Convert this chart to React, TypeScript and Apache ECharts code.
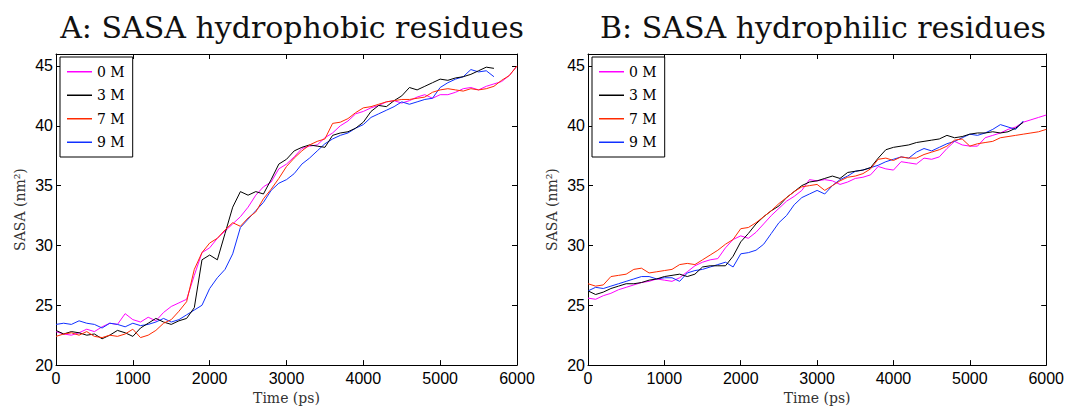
import { useEffect, useRef } from "react";
import * as echarts from "echarts";

const timePs = [
  0, 100, 200, 300, 400, 500, 600, 700, 800, 900,
  1000, 1100, 1200, 1300, 1400, 1500, 1600, 1700, 1800, 1900,
  2000, 2100, 2200, 2300, 2400, 2500, 2600, 2700, 2800, 2900,
  3000, 3100, 3200, 3300, 3400, 3500, 3600, 3700, 3800, 3900,
  4000, 4100, 4200, 4300, 4400, 4500, 4600, 4700, 4800, 4900,
  5000, 5100, 5200, 5300, 5400, 5500, 5600, 5700, 5800, 5900,
  6000,
];

const seriesNames = ["0 M", "3 M", "7 M", "9 M"];
const seriesColors = ["#ff00ff", "#000000", "#ff2a00", "#1030ff"];
const panelTitles = ["A: SASA hydrophobic residues", "B: SASA hydrophilic residues"];
const xTicks = [0, 1000, 2000, 3000, 4000, 5000, 6000];
const yTicks = [20, 25, 30, 35, 40, 45];

// Panel A: hydrophobic
const hydrophobic0M = [
  22.8, 22.6, 22.5, 22.7, 23.0, 22.8, 23.2, 23.5, 23.4, 24.3,
  23.8, 23.6, 24.0, 23.7, 24.4, 24.9, 25.2, 25.5, 27.5, 29.4,
  29.8, 30.6, 31.2, 31.8, 32.4, 33.2, 34.2, 34.9, 35.3, 36.4,
  36.8, 37.4, 38.1, 38.3, 38.4, 39.0, 39.4, 40.0, 40.4, 41.0,
  41.2, 41.5, 41.7, 42.0, 42.1, 41.9, 42.1, 42.4, 42.6, 42.3,
  42.6, 42.6, 42.8, 43.1, 43.2, 43.0, 43.3, 43.5, 43.7, 44.2,
  45.0,
];
const hydrophobic3M = [
  22.9, 22.6, 22.8, 22.7, 22.5, 22.6, 22.2, 22.5, 22.9, 22.7,
  22.4, 23.1, 23.5, 23.9, 23.6, 23.4, 23.7, 23.9, 24.8, 28.8,
  29.2, 28.8, 31.0, 33.2, 34.5, 34.2, 34.5, 34.3, 35.5, 36.8,
  37.2, 37.9, 38.2, 38.4, 38.3, 38.2, 39.2, 39.4, 39.5, 39.8,
  40.3, 41.2, 41.7, 41.6, 42.1, 42.5, 43.2, 43.0, 43.3, 43.6,
  43.9, 43.8, 44.0, 44.1, 44.3, 44.6, 44.9, 44.8,
];
const hydrophobic7M = [
  22.4, 22.6, 22.7, 22.5, 22.8, 22.4, 22.3, 22.5, 22.4, 22.6,
  23.0, 22.3, 22.5, 22.9, 23.5, 23.8, 24.5, 25.3, 28.0, 29.4,
  30.2, 30.6, 31.3, 31.9, 31.6, 32.3, 32.8, 33.9, 34.7, 35.6,
  36.6, 37.3, 37.9, 38.4, 38.7, 38.9, 40.2, 40.3, 40.6, 41.1,
  41.5, 41.6, 41.8, 42.0, 42.1, 42.2, 42.2, 42.3, 42.4, 42.8,
  43.0, 43.1, 43.0, 42.9, 43.1, 43.0, 43.1, 43.3, 43.8, 44.2,
  45.0,
];
const hydrophobic9M = [
  23.4, 23.5, 23.4, 23.7, 23.5, 23.4, 23.1, 23.5, 23.4, 23.2,
  23.5, 23.3, 23.4, 23.6, 23.9, 23.6, 23.8, 24.2, 24.6, 25.0,
  26.4, 27.3, 28.0, 29.3, 31.5, 32.2, 32.9, 33.6, 34.6, 35.2,
  35.5, 36.0, 36.8, 37.3, 37.9, 38.5, 38.9, 39.2, 39.4, 39.8,
  40.1, 40.7, 41.0, 41.3, 41.6, 42.0, 41.8, 42.0, 42.2, 42.3,
  43.2, 43.6, 43.9, 44.1, 44.7, 44.5, 44.6, 44.1,
];

// Panel B: hydrophilic
const hydrophilic0M = [
  25.6, 25.5, 25.8, 26.0, 26.3, 26.5, 26.7, 26.9, 27.0, 27.2,
  27.1, 27.0, 27.3, 27.8, 28.3, 28.6, 28.8, 28.9, 29.8, 30.5,
  30.8, 30.6, 31.1, 31.8, 32.5, 33.1, 33.7, 34.1, 34.6, 35.5,
  35.4, 35.5, 35.4, 35.1, 35.3, 35.6, 35.7, 35.9, 36.6, 36.4,
  36.3, 37.0, 36.9, 36.8, 37.3, 37.2, 37.4, 38.1, 38.7, 38.4,
  38.3, 38.3, 39.0, 39.2, 39.4, 39.7, 39.9, 40.3, 40.5, 40.7,
  40.9,
];
const hydrophilic3M = [
  26.2, 25.9, 26.1, 26.4, 26.6, 26.8, 26.8, 26.9, 27.1, 27.2,
  27.4, 27.5, 27.6, 27.4, 27.6, 28.2, 28.3, 28.3, 28.3, 29.1,
  30.3, 31.0, 31.8, 32.4, 32.9, 33.3, 34.0, 34.5, 35.0, 35.3,
  35.4, 35.6, 35.8, 35.6, 36.1, 36.2, 36.3, 36.5, 37.3, 38.0,
  38.2, 38.3, 38.4, 38.6, 38.7, 38.8, 38.9, 39.2, 39.0, 39.1,
  39.3, 39.4, 39.4, 39.5, 39.4, 39.5, 39.8, 40.3,
];
const hydrophilic7M = [
  26.8, 26.6, 26.7, 27.4, 27.5, 27.6, 28.0, 28.1, 27.7, 27.8,
  27.9, 28.0, 28.4, 28.5, 28.4, 28.8, 29.2, 29.6, 30.1, 30.5,
  31.4, 31.5, 31.9, 32.4, 32.9, 33.5, 34.0, 34.5, 34.9, 35.0,
  35.1, 34.6, 35.0, 35.4, 35.7, 35.8, 36.0, 36.4, 37.2, 37.3,
  37.1, 37.4, 37.3, 37.3, 37.6, 37.8, 38.0, 38.3, 38.8, 38.9,
  38.3, 38.5, 38.6, 38.7, 39.0, 39.1, 39.2, 39.3, 39.4, 39.5,
  39.7,
];
const hydrophilic9M = [
  26.2, 26.5, 26.4, 26.6, 26.8, 27.0, 27.2, 27.4, 27.4, 27.2,
  27.3, 27.3, 27.0, 27.7, 27.9, 28.0, 28.2, 28.4, 28.6, 28.2,
  29.3, 29.4, 29.6, 30.1, 31.0, 31.9, 32.5, 33.4, 34.0, 34.3,
  34.6, 34.3, 35.0, 35.5, 35.8, 36.2, 36.3, 36.5, 36.7, 37.0,
  37.2, 37.4, 37.3, 37.8, 38.1, 37.9, 38.2, 38.5, 38.7, 39.0,
  39.3, 39.2, 39.4, 39.7, 40.1, 39.9, 39.7, 40.4,
];

const panelSeries = [
  [hydrophobic0M, hydrophobic3M, hydrophobic7M, hydrophobic9M],
  [hydrophilic0M, hydrophilic3M, hydrophilic7M, hydrophilic9M],
];

const SERIF = "DejaVu Serif";
const SANS = "Liberation Sans, Arial, Helvetica, sans-serif";

export default function App() {
  const ref = useRef<HTMLDivElement>(null);

  useEffect(() => {
    document.body.style.margin = "0";
    if (!ref.current) return;
    const chart = echarts.init(ref.current, null, { renderer: "svg" });

    const grids = [
      { left: 56, right: 550, top: 54, bottom: 41 },
      { left: 588, right: 20, top: 54, bottom: 41 },
    ];
    const titleCenters = [287, 818];
    const legendLefts = [60, 592];

    const xAxes: any[] = [];
    const yAxes: any[] = [];
    const series: any[] = [];

    grids.forEach((g, gi) => {
      const baseX = {
        type: "value",
        gridIndex: gi,
        min: xTicks[0],
        max: xTicks[xTicks.length - 1],
        interval: xTicks[1] - xTicks[0],
        axisLine: { show: true, onZero: false, lineStyle: { color: "#000", width: 1 } },
        axisTick: { show: true, inside: true, length: 5, lineStyle: { color: "#000", width: 1 } },
        splitLine: { show: false },
      };
      xAxes.push({
        ...baseX,
        position: "bottom",
        axisLabel: {
          show: true,
          color: "#000",
          fontFamily: SANS,
          fontSize: 16,
          margin: 5,
          formatter: (v: number) => String(v),
        },
        name: "Time (ps)",
        nameLocation: "middle",
        nameGap: 23,
        nameTextStyle: { fontFamily: SERIF, fontSize: 14, color: "#333" },
      });
      xAxes.push({ ...baseX, position: "top", axisLabel: { show: false } });

      const baseY = {
        type: "value",
        gridIndex: gi,
        min: yTicks[0],
        max: 46,
        interval: yTicks[1] - yTicks[0],
        axisLine: { show: true, onZero: false, lineStyle: { color: "#000", width: 1 } },
        axisTick: { show: true, inside: true, length: 5, lineStyle: { color: "#000", width: 1 } },
        splitLine: { show: false },
      };
      yAxes.push({
        ...baseY,
        position: "left",
        axisLabel: {
          show: true,
          color: "#000",
          fontFamily: SANS,
          fontSize: 16,
          margin: 3,
          showMaxLabel: false,
          formatter: (v: number) => String(v),
        },
        name: "SASA (nm²)",
        nameLocation: "middle",
        nameGap: 29,
        nameTextStyle: { fontFamily: SERIF, fontSize: 14, color: "#333" },
      });
      yAxes.push({ ...baseY, position: "right", axisLabel: { show: false } });

      panelSeries[gi].forEach((vals, si) => {
        series.push({
          type: "line",
          name: seriesNames[si],
          xAxisIndex: gi * 2,
          yAxisIndex: gi * 2,
          data: vals.map((v, i) => [timePs[i], v]),
          showSymbol: false,
          symbol: "none",
          lineStyle: { color: seriesColors[si], width: 1 },
          itemStyle: { color: seriesColors[si] },
          emphasis: { disabled: true },
          z: 2 + (si === 3 ? 0 : si),
        });
      });
    });

    chart.setOption({
      animation: false,
      backgroundColor: "#fff",
      title: panelTitles.map((t, i) => ({
        text: t,
        left: titleCenters[i],
        top: 7,
        textAlign: "center",
        textStyle: { fontFamily: SERIF, fontSize: 30, fontWeight: "normal", color: "#111" },
      })),
      legend: legendLefts.map((l) => ({
        data: seriesNames.map((n, i) => ({ name: n, icon: "rect", itemStyle: { color: seriesColors[i] } })),
        left: l,
        top: 57,
        orient: "vertical",
        itemWidth: 25,
        itemHeight: 1.5,
        itemGap: 0,
        padding: [3, 8, 3, 7],
        borderColor: "#000",
        borderWidth: 1,
        borderRadius: 0,
        backgroundColor: "#fff",
        selectedMode: false,
        textStyle: { fontFamily: SERIF, fontSize: 14, color: "#000", lineHeight: 23.5 },
        z: 10,
      })),
      grid: grids,
      xAxis: xAxes,
      yAxis: yAxes,
      series,
    });

    return () => {
      chart.dispose();
    };
  }, []);

  return <div ref={ref} style={{ width: 1067, height: 410 }} />;
}
